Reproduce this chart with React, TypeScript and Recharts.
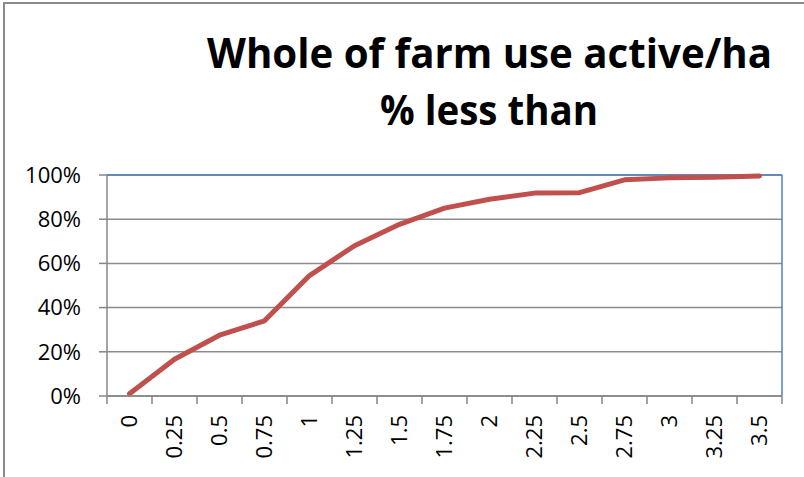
import React from 'react';
import { LineChart, Line, XAxis, YAxis, CartesianGrid, ReferenceLine } from 'recharts';

const categories = ['0', '0.25', '0.5', '0.75', '1', '1.25', '1.5', '1.75', '2', '2.25', '2.5', '2.75', '3', '3.25', '3.5'];
const percentLessThan = [0.01, 0.166, 0.275, 0.34, 0.545, 0.68, 0.777, 0.85, 0.89, 0.918, 0.92, 0.978, 0.987, 0.99, 0.996];
const yTicks = [0, 0.2, 0.4, 0.6, 0.8, 1];
const titleLines = ['Whole of farm use active/ha', '% less than'];

const data = categories.map((c, i) => ({ pos: i + 0.5, label: c, value: percentLessThan[i] }));
const xTicks: number[] = [];
for (let i = 0; i <= categories.length * 2; i++) xTicks.push(i / 2);

const FONT = '"Open Sans", sans-serif';
const GRAY = '#868686';

const XTick = (props: any) => {
  const { x, y, payload } = props;
  const v = payload.value as number;
  if (Number.isInteger(v)) {
    return <line x1={x} x2={x} y1={y - 8} y2={y} stroke={GRAY} strokeWidth={1.5} />;
  }
  const idx = Math.floor(v);
  const ty = y + 11;
  return (
    <text
      x={x}
      y={ty}
      transform={`rotate(-90 ${x} ${ty})`}
      textAnchor="end"
      dy="0.36em"
      fill="#000"
      fontSize={22}
      fontFamily={FONT}
    >
      {categories[idx]}
    </text>
  );
};

export default function App() {
  return (
    <div style={{ position: 'absolute', left: 0, top: 0, width: 804, height: 477, overflow: 'hidden', background: '#fff' }}>
      <div
        style={{
          position: 'absolute',
          left: 3,
          top: 2,
          width: 900,
          height: 600,
          borderLeft: '2px solid #8a8a8a',
          borderTop: '2px solid #8a8a8a',
        }}
      />
      <svg width={804} height={150} style={{ position: 'absolute', left: 0, top: 0 }}>
        <text x={207} y={68} textLength={565} lengthAdjust="spacingAndGlyphs" fontFamily={FONT} fontWeight={700} fontSize={42} fill="#000">
          {titleLines[0]}
        </text>
        <text x={380} y={125} textLength={218} lengthAdjust="spacingAndGlyphs" fontFamily={FONT} fontWeight={700} fontSize={42} fill="#000">
          {titleLines[1]}
        </text>
      </svg>
      <div style={{ position: 'absolute', left: 0, top: 0 }}>
        <LineChart width={804} height={477} data={data} margin={{ top: 175, right: 22, left: 0, bottom: 0 }}>
          <CartesianGrid horizontal vertical={false} stroke="#8c8c8c" strokeWidth={1.5} />
          <XAxis
            dataKey="pos"
            type="number"
            domain={[0, categories.length]}
            ticks={xTicks}
            interval={0}
            height={81}
            tickSize={8}
            tickMargin={0}
            tickLine={false}
            axisLine={{ stroke: GRAY, strokeWidth: 1.5 }}
            tick={<XTick />}
          />
          <YAxis
            type="number"
            domain={[0, 1]}
            ticks={yTicks}
            interval={0}
            width={107}
            tickSize={8}
            tickMargin={18}
            tickFormatter={(v: number) => `${Math.round(v * 100)}%`}
            tick={{ fill: '#000', fontSize: 22, fontFamily: FONT }}
            tickLine={{ stroke: GRAY, strokeWidth: 1.5 }}
            axisLine={{ stroke: GRAY, strokeWidth: 1.5 }}
          />
          <ReferenceLine y={1} stroke="#4F81BD" strokeWidth={1.5} />
          <ReferenceLine x={categories.length} stroke="#4F81BD" strokeWidth={1.5} />
          <Line
            type="linear"
            dataKey="value"
            stroke="#C0504D"
            strokeWidth={5}
            strokeLinejoin="round"
            strokeLinecap="round"
            dot={false}
            activeDot={false}
            isAnimationActive={false}
          />
        </LineChart>
      </div>
    </div>
  );
}
